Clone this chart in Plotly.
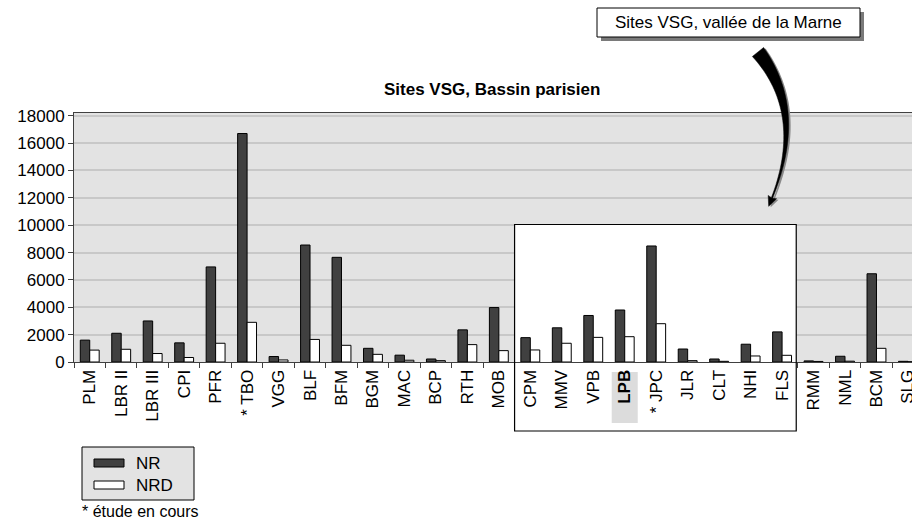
import numpy as np
import plotly.graph_objects as go

# Sites and counts
sites = ["PLM", "LBR II", "LBR III", "CPI", "PFR", "* TBO", "VGG", "BLF", "BFM", "BGM",
         "MAC", "BCP", "RTH", "MOB", "CPM", "MMV", "VPB", "LPB", "* JPC", "JLR",
         "CLT", "NHI", "FLS", "RMM", "NML", "BCM", "SLG"]
nr = [1600, 2100, 3000, 1400, 6950, 16700, 400, 8550, 7650, 1000,
      500, 220, 2350, 3980, 1780, 2500, 3400, 3800, 8480, 950,
      220, 1300, 2200, 80, 420, 6450, 50]
nrd = [870, 930, 620, 330, 1370, 2900, 150, 1650, 1220, 560,
       130, 100, 1270, 830, 880, 1370, 1800, 1850, 2800, 100,
       50, 440, 490, 40, 60, 1000, 20]
y_ticks = list(range(0, 18001, 2000))

# Marne valley group (first and last site of the framed block)
marne_first, marne_last = "CPM", "FLS"
highlight = "LPB"

FONT = "Liberation Sans, Arial, sans-serif"
FS = 17
W, H = 912, 531
L, T, BOT = 74, 113, 362
PW, PH = W - L, BOT - T
CAT_W = 31.47
x_range = [-0.5, -0.5 + PW / CAT_W]
y_range = [0, 18200]


def px(x):
    return (x - L) / PW


def py(y):
    return (BOT - y) / PH


def cat_to_paper(c):
    return (c - x_range[0]) / (x_range[1] - x_range[0])


ticktext = [f"<b>{s}</b>" if s == highlight else s for s in sites]

fig = go.Figure()
fig.add_bar(x=sites, y=nr, name="NR", marker=dict(color="#404040", line=dict(color="#000000", width=1)))
fig.add_bar(x=sites, y=nrd, name="NRD", marker=dict(color="#ffffff", line=dict(color="#000000", width=1)))

i0 = sites.index(marne_first) - 0.5
i1 = sites.index(marne_last) + 0.45
shapes = []
# white panel behind the Marne valley bars (covers gridlines)
shapes.append(dict(type="rect", xref="x", yref="y", x0=i0, x1=i1, y0=0, y1=10050,
                   fillcolor="white", line=dict(width=0), layer="between"))
bx0, bx1 = cat_to_paper(i0), cat_to_paper(i1)
btop = 10050 / y_range[1]
bbot = py(431)
# hide the category ticks inside the frame
shapes.append(dict(type="rect", xref="paper", yref="paper", x0=bx0 + 1 / PW, x1=bx1 - 1 / PW,
                   y0=py(369), y1=py(363), fillcolor="white", line=dict(width=0), layer="above"))
# frame around the group
shapes.append(dict(type="rect", xref="paper", yref="paper", x0=bx0, x1=bx1, y0=bbot, y1=btop,
                   fillcolor="rgba(0,0,0,0)", line=dict(color="#000000", width=1.2), layer="above"))

# grey highlight behind the LPB label
hi = sites.index(highlight)
hc = L + (hi + 0.5) * CAT_W
shapes.append(dict(type="rect", xref="paper", yref="paper", x0=px(hc - 13), x1=px(hc + 13),
                   y0=py(423), y1=py(372), fillcolor="#dcdcdc", line=dict(width=0), layer="below"))

# callout box with shadow
shapes.append(dict(type="rect", xref="paper", yref="paper", x0=px(601), x1=px(864), y0=py(41), y1=py(12),
                   fillcolor="#7a7a7a", line=dict(width=0), layer="above"))
shapes.append(dict(type="rect", xref="paper", yref="paper", x0=px(597), x1=px(860), y0=py(37), y1=py(8),
                   fillcolor="white", line=dict(color="#000000", width=1), layer="above"))


# curved tapered arrow from the callout down into the chart
def arrow_path(dx, dy):
    P0, P1, P2 = np.array([758.0, 52.0]), np.array([806.0, 112.0]), np.array([772.0, 198.0])
    t = np.linspace(0, 1, 40)
    pts = ((1 - t) ** 2)[:, None] * P0 + (2 * t * (1 - t))[:, None] * P1 + (t ** 2)[:, None] * P2
    der = (2 * (1 - t))[:, None] * (P1 - P0) + (2 * t)[:, None] * (P2 - P1)
    tang = der / np.linalg.norm(der, axis=1)[:, None]
    nrm = np.stack([-tang[:, 1], tang[:, 0]], axis=1)
    hw = 0.7 + 6.5 * (1 - t) ** 1.5
    left = pts + nrm * hw[:, None]
    right = pts - nrm * hw[:, None]
    end, td, nd = pts[-1], tang[-1], nrm[-1]
    tip = end + td * 9
    h1 = end + nd * 4.5 - td * 1
    h2 = end - nd * 4.5 - td * 1
    poly = list(left) + [h1, tip, h2] + list(right[::-1])
    s = "M " + " L ".join(f"{px(p[0] + dx):.5f},{py(p[1] + dy):.5f}" for p in poly) + " Z"
    return s


shapes.append(dict(type="path", xref="paper", yref="paper", path=arrow_path(2, 1),
                   fillcolor="#8a8a8a", line=dict(width=0), layer="above"))
shapes.append(dict(type="path", xref="paper", yref="paper", path=arrow_path(0, 0),
                   fillcolor="#000000", line=dict(color="#000000", width=0.5), layer="above"))

# hand-drawn legend
shapes.append(dict(type="rect", xref="paper", yref="paper", x0=px(82), x1=px(194), y0=py(500), y1=py(447),
                   fillcolor="#e3e3e3", line=dict(color="#000000", width=1), layer="above"))
for trace, yc in zip(fig.data, [463, 485]):
    shapes.append(dict(type="rect", xref="paper", yref="paper", x0=px(94), x1=px(124),
                       y0=py(yc + 4), y1=py(yc - 4), fillcolor=trace.marker.color,
                       line=dict(color="#000000", width=1), layer="above"))

annotations = [
    dict(text="<b>Sites VSG, Bassin parisien</b>", x=px(492), y=py(90), xref="paper", yref="paper",
         showarrow=False, font=dict(size=FS, color="#000000", family=FONT), xanchor="center", yanchor="middle"),
    dict(text="Sites VSG, vallée de la Marne", x=px(728.5), y=py(23), xref="paper", yref="paper",
         showarrow=False, font=dict(size=FS, color="#000000", family=FONT), xanchor="center", yanchor="middle"),
    dict(text="* étude en cours", x=px(80), y=py(511), xref="paper", yref="paper",
         showarrow=False, font=dict(size=FS - 1, color="#000000", family=FONT), xanchor="left", yanchor="middle"),
]
for trace, yc in zip(fig.data, [463, 485]):
    annotations.append(dict(text=trace.name, x=px(134), y=py(yc), xref="paper", yref="paper",
                            showarrow=False, font=dict(size=FS, color="#000000", family=FONT),
                            xanchor="left", yanchor="middle"))

fig.update_layout(
    template="none",
    width=W, height=H,
    margin=dict(l=L, r=0, t=T, b=H - BOT, pad=0),
    paper_bgcolor="white",
    plot_bgcolor="#e3e3e3",
    barmode="group", bargap=0.4, bargroupgap=0,
    showlegend=False,
    font=dict(family=FONT, size=FS, color="#000000"),
    shapes=shapes,
    annotations=annotations,
    xaxis=dict(range=x_range, tickmode="array", tickvals=sites, ticktext=ticktext, tickangle=-90,
               tickson="boundaries", ticks="outside", ticklen=5, tickcolor="#404040",
               showline=True, linecolor="#404040", linewidth=1, mirror=True,
               showgrid=False, automargin=False, tickfont=dict(size=FS, color="#000000", family=FONT)),
    yaxis=dict(range=y_range, tickvals=y_ticks, tickformat="d", ticks="outside", ticklen=5,
               tickcolor="#404040", showline=True, linecolor="#404040", linewidth=1,
               showgrid=True, gridcolor="#c8c8c8", gridwidth=1.5, zeroline=False, automargin=False,
               tickfont=dict(size=FS, color="#000000", family=FONT)),
)

fig.write_html("out.html")
